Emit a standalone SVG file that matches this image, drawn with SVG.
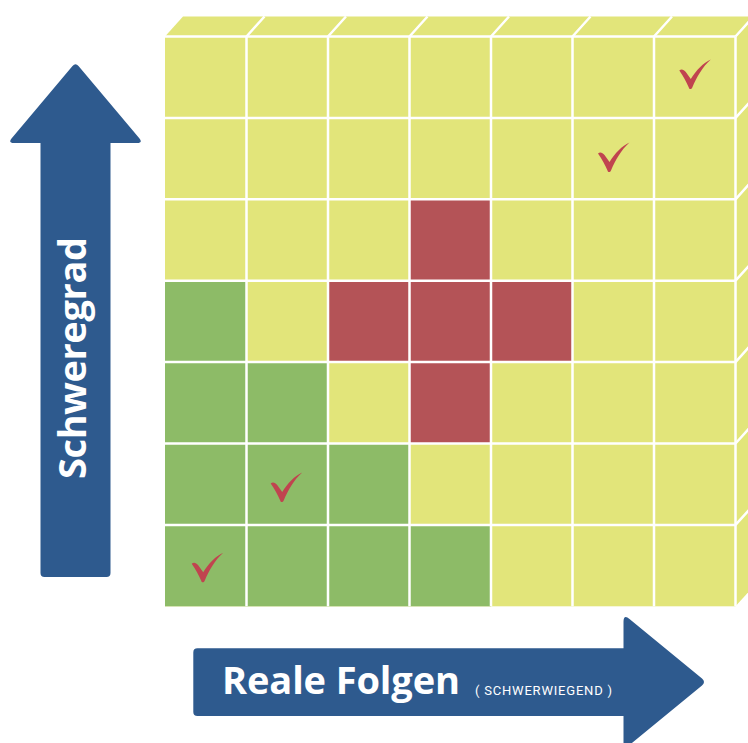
<svg xmlns="http://www.w3.org/2000/svg" xmlns:xlink="http://www.w3.org/1999/xlink" width="748" height="743" viewBox="0 0 748 743">
<style>
.y{fill:#E2E57A}
.g{fill:#8DBB67}
.r{fill:#B45357}
.w{stroke:#FFFFFF;stroke-width:2.5;fill:none}
.ax{fill:#2E5A8E}
.big{font-family:"Open Sans","Noto Sans","DejaVu Sans",sans-serif;font-weight:700;font-size:38px;fill:#FFFFFF}
.small{font-family:Roboto,"Liberation Sans",sans-serif;font-size:13px;fill:#FFFFFF}
.chk{fill:#C0444F}
</style>
<defs>
<path id="chk" d="M0,0.5 C2,-1.5 4.5,-0.5 6.5,2 L11.5,9 C17,0 24,-7 31.5,-10.5 C23,-3 17.5,7 13,17.5 C12,19.5 10,19.5 9.5,17.5 C7,12 4,6 0,0.5 Z"/>
</defs>
<g id="matrix">
<polygon class="y" points="165,36.5 183,16.5 753.5,16.5 735.5,36.5"/>
<polygon class="y" points="735.5,36.5 753.5,16.5 753.5,586.3 735.5,606.3"/>
<rect class="y" x="165" y="36.5" width="570.5" height="569.8"/>
<g id="green-cells" class="g">
<rect x="165" y="280.7" width="81.5" height="81.4"/>
<rect x="165" y="362.1" width="163" height="81.4"/>
<rect x="165" y="443.5" width="244.5" height="81.4"/>
<rect x="165" y="524.9" width="326" height="81.4"/>
</g>
<g id="red-cells" class="r">
<rect x="409.5" y="199.3" width="81.5" height="244.2"/>
<rect x="328" y="280.7" width="244.5" height="81.4"/>
</g>
<g id="grid-lines" class="w">
<path d="M246.5,36.5V606.3M328,36.5V606.3M409.5,36.5V606.3M491,36.5V606.3M572.5,36.5V606.3M654,36.5V606.3M735.5,36.5V606.3"/>
<path d="M165,36.5H735.5M165,117.9H735.5M165,199.3H735.5M165,280.7H735.5M165,362.1H735.5M165,443.5H735.5M165,524.9H735.5"/>
<path d="M246.5,36.5l18,-20M328,36.5l18,-20M409.5,36.5l18,-20M491,36.5l18,-20M572.5,36.5l18,-20M654,36.5l18,-20M735.5,36.5l18,-20"/>
<path d="M735.5,117.9l18,-20M735.5,199.3l18,-20M735.5,280.7l18,-20M735.5,362.1l18,-20M735.5,443.5l18,-20M735.5,524.9l18,-20"/>
</g>
</g>
<g id="checks" class="chk">
<use xlink:href="#chk" href="#chk" x="679.3" y="70"/>
<use xlink:href="#chk" href="#chk" x="598" y="153"/>
<use xlink:href="#chk" href="#chk" x="270.7" y="483"/>
<use xlink:href="#chk" href="#chk" x="191.7" y="563.3"/>
</g>
<g id="axis-schweregrad">
<path class="ax" d="M44.5,577 Q40.5,577 40.5,573 L40.5,143 L14,143 Q8,143 11.5,138.5 L72.5,66 Q75.5,62.5 78.5,66 L139.5,138.5 Q143,143 137,143 L110.5,143 L110.5,573 Q110.5,577 106.5,577 Z"/>
<text class="big" transform="translate(86,479) rotate(-90)" x="0" y="0" textLength="242">Schweregrad</text>
</g>
<g id="axis-reale-folgen">
<path class="ax" d="M197.5,648.3 L623.5,648.3 L623.5,622 Q623.5,614 629.5,619 L702,678.5 Q706,682 702,685.5 L629.5,745 Q623.5,750 623.5,742 L623.5,716 L197.5,716 Q193.3,716 193.3,712 L193.3,652.5 Q193.3,648.3 197.5,648.3 Z"/>
<text class="big" x="222" y="694" textLength="238">Reale Folgen</text>
<text class="small" x="475" y="695" textLength="137">( SCHWERWIEGEND )</text>
</g>
</svg>
